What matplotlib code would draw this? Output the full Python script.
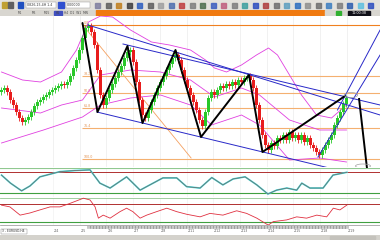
import matplotlib
matplotlib.use("Agg")
import matplotlib.pyplot as plt
import numpy as np
from matplotlib.patches import Rectangle, Ellipse

# ---------------- data ----------------
closes = [80, 82, 78, 70, 65, 58, 52, 48, 50, 53,
          58, 64, 68, 70, 73, 75, 78, 80, 82, 84,
          86, 85, 88, 94, 102, 110, 120, 132, 142, 144,
          138, 125, 100, 75, 65, 72, 80, 86, 92, 98,
          104, 112, 118, 120, 108, 88, 70, 55, 52, 60,
          68, 75, 82, 88, 94, 100, 106, 112, 115, 110,
          100, 90, 82, 75, 68, 60, 50, 44, 58, 72,
          78, 75, 80, 84, 82, 86, 84, 88, 85, 90,
          88, 92, 94, 90, 82, 65, 50, 35, 25, 20,
          27, 24, 32, 30, 35, 30, 38, 32, 35, 30,
          35, 28, 32, 25, 22, 18, 15, 20, 25, 30,
          35, 45, 52, 58, 66, 72]

zig_bars = [27, 32, 42, 47, 58, 66.5, 82.5, 87, 114.5]
zig_prices = [147, 58, 124, 47, 120, 33, 95, 18, 74]
zig2_bars = [119.2, 122.2]
zig2_prices = [71, -8]

fib_levels = [145, 94, 77, 62, 42, 11]
fib_labels = ["0.0", "38.2", "50.0", "61.8", "76.4", "100.0"]
fib_start = 27

fib_diag_bars = [26.8, 63.2]
fib_diag_prices = [146, 12]

blue_lines = {
    "L1": ([28.8, 126.2], [145, 55]),
    "L2": ([40.5, 126.2], [126, 65]),
    "L3": ([31.8, 112.0], [58, 0]),
    "R1": ([105.5, 126.2], [13, 115]),
    "R2": ([112.0, 126.2], [60, 140]),
}

bb_upper_bars = [0, 7, 13, 20, 25, 29, 33, 37, 43, 50, 56, 63, 68, 71, 75, 80, 85, 89, 92, 96, 100, 105, 110, 115]
bb_upper = [98, 90, 88, 98, 120, 148, 154, 153, 140, 128, 125, 120, 110, 102, 98, 105, 115, 122, 115, 95, 75, 55, 52, 65]
bb_mid_bars = [0, 13, 20, 27, 33, 43, 53, 63, 71, 80, 86, 96, 106, 115]
bb_mid = [62, 57, 65, 70, 95, 100, 98, 90, 73, 82, 75, 50, 40, 40]
bb_lower_bars = [0, 14, 22, 27, 33, 43, 53, 63, 70, 80, 86, 96, 106, 115]
bb_lower = [27, 40, 48, 53, 65, 72, 75, 65, 45, 55, 45, 10, 12, 8]

stoch_bars = [0, 3, 6.7, 9.5, 12.8, 19.5, 24.5, 29.5, 32.8, 36.2, 41.7, 46.2, 53.8, 58.4,
              61.7, 66.2, 70.1, 73.8, 77.2, 81.2, 85.1, 88.8, 91.7, 95.1, 98.4, 100.1,
              102.8, 107.2, 110.5, 115.1]
stoch_vals = [72, 49, 27, 41, 67, 82, 85, 87, 49, 35, 67, 29, 64, 64,
              39, 35, 65, 44, 61, 67, 44, 18, 29, 35, 29, 49,
              35, 35, 72, 80]

osc_bars = [0, 2.8, 6.2, 9.5, 12.8, 16.2, 19.5, 22.8, 27.3, 29.5, 31.2, 32.3, 33.9, 36.2,
            39.5, 41.7, 43.8, 46.2, 48.4, 51.7, 55.1, 58.4, 61.7, 66.2, 69.5, 73.8,
            78.4, 81.7, 85.1, 88.9, 90.6, 95.1, 98.4, 101.7, 105.1, 108.4, 110.6,
            112.8, 115.1]
osc_vals = [68, 64, 45, 50, 57, 64, 64, 72, 84, 80, 64, 38, 45, 38,
            53, 61, 53, 38, 45, 53, 61, 53, 47, 41, 49, 45,
            55, 49, 38, 22, 30, 34, 41, 38, 45, 41, 61,
            57, 68]

date_tick_bars = [17.2, 26.1, 35.0, 43.8, 52.8, 61.8, 70.5, 79.5, 88.5, 97.2, 106.2, 115.2]
date_tick_labels = ["2/4", "2/5", "2/6", "2/7", "2/8", "2/11", "2/12", "2/13", "2/14", "2/15", "2/18", "2/19"]

# ---------------- figure ----------------
W, H = 380, 240
fig = plt.figure(figsize=(3.8, 2.4), dpi=100)
fig.patch.set_facecolor("white")


def rect(x0, y0, x1, y1):
    return [x0 / W, 1 - y1 / H, (x1 - x0) / W, (y1 - y0) / H]


XLIM = (-0.5, 126.17)

# ---- toolbar ----
tb = fig.add_axes(rect(0, 0, 380, 10))
tb.set_xlim(0, 380); tb.set_ylim(10, 0); tb.axis("off")
tb.add_patch(Rectangle((0, 0), 380, 10, color="#e4e2dc"))
for x, c in [(2, "#c0a030"), (8, "#606060"), (18, "#2050c0")]:
    tb.add_patch(Rectangle((x, 2), 5, 6, color=c))
tb.add_patch(Rectangle((26, 2), 30, 6, facecolor="white", edgecolor="#909090", lw=0.3))
tb.text(27, 5.2, "0826,15.4H 1.4", fontsize=2.3, va="center", color="#333")
tb.add_patch(Rectangle((58, 2), 6, 6, color="#3050d0"))
tb.add_patch(Rectangle((66, 2), 24, 6, facecolor="white", edgecolor="#909090", lw=0.3))
tb.text(67, 5.2, "0,00000", fontsize=2.3, va="center", color="#333")
icon_cols = ["#8080a0", "#606060", "#c08020", "#404040", "#3060c0", "#606060", "#a0a0a0",
             "#5070b0", "#c04040", "#808080", "#507050", "#4060c0", "#c06080", "#808080",
             "#40a0a0", "#3050c0", "#b04040", "#707070", "#60a0c0", "#3070c0", "#909090",
             "#707070", "#4080c0", "#808080", "#3060b0", "#60c0e0", "#3050c0"]
xi = 95
for c in icon_cols:
    tb.add_patch(Rectangle((xi, 2.5), 5, 5, color=c, alpha=0.85))
    xi += 10.5
    if xi > 372:
        break

# ---- tab row ----
tr = fig.add_axes(rect(0, 10, 380, 16))
tr.set_xlim(0, 380); tr.set_ylim(6, 0); tr.axis("off")
tr.add_patch(Rectangle((0, 0), 96, 6, color="#d8d6d0"))
for x, t in [(18, "M1"), (32, "M5"), (44, "M15"), (56, "H1")]:
    tr.text(x, 3.2, t, fontsize=2.2, va="center", color="#444")
tr.add_patch(Rectangle((54, 1), 8, 4, color="#4050c0"))
tr.text(64, 3.2, "H4  D1  W1  MN", fontsize=2.2, va="center", color="#444")
tr.add_patch(Rectangle((96, 0), 229, 6, color="#f07a10"))
tr.add_patch(Rectangle((325, 0), 55, 6, color="#d8d6d0"))
tr.add_patch(Rectangle((336, 1), 5, 4, color="#30b030"))
tr.add_patch(Rectangle((348, 0.5), 22, 5, color="#101018"))
tr.text(359, 3.1, "11:00:38", fontsize=2.4, va="center", ha="center", color="white")

# ---- main chart ----
ax = fig.add_axes(rect(0, 16, 380, 167))
ax.set_xlim(*XLIM); ax.set_ylim(3, 154)
ax.set_facecolor("white")
for s in ax.spines.values():
    s.set_visible(False)
ax.set_xticks([]); ax.set_yticks([])
for xb in date_tick_bars:
    ax.axvline(xb, color="#e6e6e6", lw=0.4, zorder=0)

# fib levels
for lv, lb in zip(fib_levels, fib_labels):
    col = "#f08020" if lb == "0.0" else "#f4b070"
    ax.hlines(lv, fib_start, XLIM[1], color=col, lw=0.8, zorder=1)
    ax.text(fib_start + 0.3, lv + 1.0, lb, fontsize=2.3, color="#e09050", zorder=2)
ax.plot(fib_diag_bars, fib_diag_prices, color="#f4a060", lw=0.6, zorder=1)

# bollinger-like envelopes
for bx, by in [(bb_upper_bars, bb_upper), (bb_mid_bars, bb_mid), (bb_lower_bars, bb_lower)]:
    ax.plot(bx, by, color="#e040e0", lw=0.6, zorder=2)

# candles
closes_a = np.array(closes, dtype=float)
opens_a = np.concatenate([[closes_a[0] - 2], closes_a[:-1]])
idx = np.arange(len(closes_a))
up = closes_a >= opens_a
lo = np.minimum(opens_a, closes_a)
hi = np.maximum(opens_a, closes_a)
body = np.maximum(hi - lo, 1.2)
WICK = 3.0
GREEN, RED = "#28c828", "#e81c1c"
ax.vlines(idx[up], lo[up] - WICK, hi[up] + WICK, color=GREEN, lw=0.6, zorder=3)
ax.vlines(idx[~up], lo[~up] - WICK, hi[~up] + WICK, color=RED, lw=0.6, zorder=3)
ax.bar(idx[up], body[up], bottom=lo[up], width=0.72, color=GREEN, zorder=4)
ax.bar(idx[~up], body[~up], bottom=lo[~up], width=0.72, color=RED, zorder=4)

# trend lines
for k, (bx, by) in blue_lines.items():
    ax.plot(bx, by, color="#2828c8", lw=0.7, zorder=5)
ax.plot(zig_bars, zig_prices, color="black", lw=1.4, zorder=6, solid_capstyle="round")
ax.plot(zig2_bars, zig2_prices, color="black", lw=1.4, zorder=6, clip_on=False)

for (cx, cy, w, h) in [(116.5, 75, 4.5, 5), (120.5, 4, 5, 4)]:
    ax.add_patch(Ellipse((cx, cy), w, h, fill=False, ec="#a0a0a0", lw=0.5, zorder=7))

# ---- oscillator 1 ----
a1 = fig.add_axes(rect(0, 168, 380, 197))
a1.set_xlim(*XLIM); a1.set_ylim(9.4, 92.3)
a1.set_xticks([]); a1.set_yticks([])
for s in a1.spines.values():
    s.set_visible(False)
a1.axhline(92.3, color="#90c890", lw=0.8)
a1.axhline(80, color="#b03030", lw=0.7)
a1.axhline(20, color="#40a040", lw=0.8)
for xb in date_tick_bars:
    a1.axvline(xb, color="#eeeeee", lw=0.4, zorder=0)
a1.plot(stoch_bars, stoch_vals, color="#40e0e0", lw=1.2)
a1.plot(stoch_bars, stoch_vals, color="#707070", lw=0.6)

# ---- oscillator 2 ----
a2 = fig.add_axes(rect(0, 198, 380, 225))
a2.set_xlim(*XLIM); a2.set_ylim(22.2, 84.5)
a2.set_xticks([]); a2.set_yticks([])
for s in a2.spines.values():
    s.set_visible(False)
a2.axhline(84.5, color="#90c890", lw=0.6)
a2.axhline(70, color="#b03030", lw=0.7)
a2.axhline(30, color="#40a040", lw=0.8)
for xb in date_tick_bars:
    a2.axvline(xb, color="#eeeeee", lw=0.4, zorder=0)
a2.plot(osc_bars, osc_vals, color="#e03040", lw=0.6, clip_on=False)

# ---- date axis ----
ad = fig.add_axes(rect(0, 225, 380, 235))
ad.set_xlim(*XLIM); ad.set_ylim(0, 10)
ad.set_yticks([])
for s in ad.spines.values():
    s.set_visible(False)
ad.set_xticks([])
ad.axhline(9.8, color="#909090", lw=0.5)
minor = np.arange(29, 116, 0.5)
ad.vlines(minor, 6.5, 9.5, color="#202020", lw=0.35)
for xb, lb in zip(date_tick_bars, date_tick_labels):
    ad.add_patch(Rectangle((xb - 0.2, 1), 4, 5.5, color="white", zorder=3))
    ad.text(xb + 0.3, 3.8, lb, fontsize=2.3, color="#606060", va="center", zorder=4)
ad.add_patch(Rectangle((0, 1.5), 8.5, 5, facecolor="white", edgecolor="#808080", lw=0.3, zorder=3))
ad.text(0.2, 4, "3 - EURUSD,H4", fontsize=2.2, color="#303030", va="center", zorder=4)

# ---- status bar ----
sb = fig.add_axes(rect(0, 235, 380, 240))
sb.set_xlim(0, 380); sb.set_ylim(0, 5); sb.axis("off")
sb.add_patch(Rectangle((0, 0), 380, 5, color="#d4d2cc"))
sb.add_patch(Rectangle((330, 1), 45, 3, color="#c4c2bc"))

fig.savefig("out.png", dpi=100)
